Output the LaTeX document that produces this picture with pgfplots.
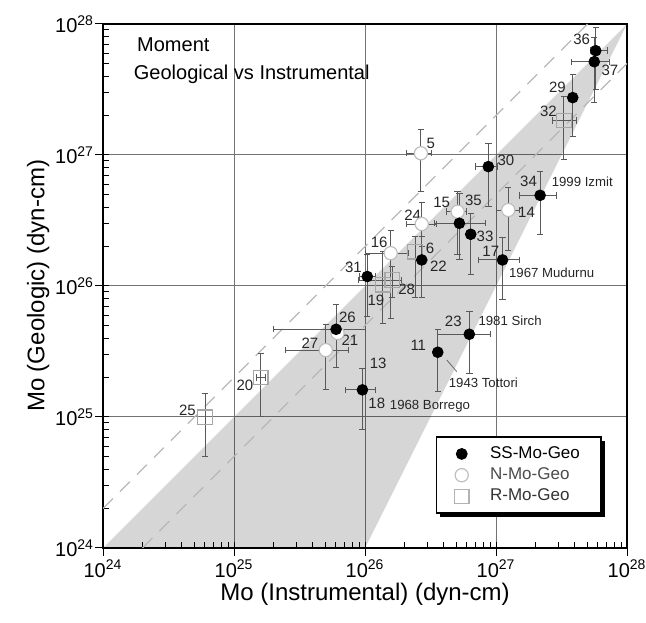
\documentclass[border=0pt]{standalone}
\usepackage{fontspec}
\setmainfont{Liberation Sans}
\usepackage{pgfplots}
\pgfplotsset{compat=1.18}
\usepackage{pgfplotstable}
\usetikzlibrary{shadows}

\makeatletter
\tikzset{noshadow/.code={\let\tikz@preactions\pgfutil@empty}}
\makeatother

% strike-slip events: id, Mo instrumental, Mo geologic, error minus/plus
\pgfplotstableread{
id x       y       xm      xp      ym      yp
36 5.77e27 6.25e27 5.0e26  1.29e27 3.09e27 3.08e27
37 5.62e27 5.15e27 1.84e27 1.79e27 2.64e27 2.79e27
29 3.85e27 2.74e27 0       0       1.36e27 1.34e27
30 8.73e26 8.15e26 1.8e26  1.5e26  4.1e26  4.1e26
34 2.17e27 4.92e26 6.7e26  7.0e26  2.47e26 2.54e26
35 5.25e26 3.01e26 1.83e26 3.0e26  1.43e26 2.1e26
33 6.41e26 2.48e26 0       0       1.25e26 1.07e26
17 1.12e27 1.58e26 3.8e26  3.8e26  7.9e25  7.8e25
22 2.71e26 1.58e26 0       0       7.7e25  8.0e25
31 1.04e26 1.18e26 1.3e25  1.6e25  6.0e25  5.5e25
26 6.01e25 4.67e25 4.0e25  4.0e25  2.3e25  2.5e25
18 9.55e25 1.61e25 2.5e25  2.4e25  8.1e24  7.5e24
11 3.59e26 3.12e25 0       0       1.56e25 1.55e25
23 6.25e26 4.28e25 2.66e26 2.75e26 2.15e25 2.16e25
}\SSdata

% normal events
\pgfplotstableread{
id x       y       xm      xp      ym      yp
5  2.67e26 1.03e27 5.9e25  5.6e25  5.05e26 5.4e26
15 5.09e26 3.69e26 9.0e25  9.0e25  1.96e26 1.56e26
14 1.24e27 3.80e26 2.3e26  2.8e26  1.92e26 1.86e26
24 2.71e26 2.97e26 6.3e25  8.1e25  9.7e25  1.36e26
16 1.57e26 1.78e26 5.7e25  5.7e25  1.22e26 8.5e25
27 5.01e25 3.24e25 2.56e25 2.44e25 1.61e25 1.80e25
21 6.17e25 4.37e25 0       0       0       0
}\Ndata

% reverse events
\pgfplotstableread{
id x       y       ym      yp
25 6.01e24 9.95e24 4.97e24 5.05e24
20 1.60e25 2.00e25 1.0e25  1.03e25
32 3.30e27 1.83e27 9.0e26  9.6e26
6  2.41e26 1.82e26 1.0e26  5.6e25
19 1.37e26 1.02e26 5.0e25  8.1e25
28 1.61e26 1.11e26 3.0e25  3.0e25
}\Rdata

\pgfplotstableread{
id x       y       xm      xp
20 1.60e25 2.00e25 1.1e24  1.3e24
32 3.30e27 1.83e27 5.9e26  8.3e26
28 1.61e26 1.11e26 7.2e25  3.0e25
}\Rxdata

\newcommand{\numfont}{\fontsize{7.5}{8}\selectfont}
\newcommand{\evfont}{\fontsize{6.6}{7}\selectfont}

\pgfplotsset{
  ebar/.style={draw=none, mark=none, forget plot,
    error bars/error bar style={draw=black!65, line width=0.5pt},
    error bars/error mark options={rotate=90, draw=black!65, mark size=1.6pt, line width=0.5pt}},
  legmark/.style={legend image code/.code={%
    \path[noshadow, draw=none, fill=none] plot coordinates {(0cm,0cm)};}},
}

\begin{document}
\begin{tikzpicture}
\useasboundingbox (-51.5pt,-37pt) rectangle (271.5pt,274pt);
\begin{axis}[
  at={(0pt,0pt)}, anchor=south west,
  scale only axis, width=262pt, height=262pt,
  xmode=log, ymode=log, log basis x=10, log basis y=10,
  xmin=1e24, xmax=1e28, ymin=1e24, ymax=1e28,
  xtick pos=left, ytick pos=left,
  tick align=inside,
  minor tick length=3pt, major tick length=3pt,
  tick style={black, line width=0.5pt},
  extra x ticks={1e24,1e25,1e26,1e27,1e28}, extra x tick labels={},
  extra y ticks={1e24,1e25,1e26,1e27,1e28}, extra y tick labels={},
  extra tick style={tick align=outside, major tick length=4pt, grid=none},
  grid=major, major grid style={black!55, line width=0.5pt},
  axis line style={black, line width=0.7pt},
  xticklabel={10\textsuperscript{\pgfmathparse{int(round(\tick))}\pgfmathresult}},
  yticklabel={10\textsuperscript{\pgfmathparse{int(round(\tick))}\pgfmathresult}},
  tick label style={font=\fontsize{10}{12}\selectfont},
  xticklabel style={yshift=-2.5pt},
  yticklabel style={xshift=-1pt},
  xlabel={Mo (Instrumental) (dyn-cm)},
  ylabel={Mo (Geologic) (dyn-cm)},
  label style={font=\fontsize{12}{14}\selectfont},
  x label style={at={(axis description cs:0.5,-0.088)}, anchor=center},
  y label style={at={(axis description cs:-0.124,0.5)}, anchor=center},
  legend cell align=left,
  legend style={at={(0.952,0.065)}, anchor=south east, draw=black, line width=0.8pt,
    fill=white, font=\fontsize{8.5}{10}\selectfont, row sep=0pt,
    inner xsep=9pt, inner ysep=3pt, nodes={inner sep=1.6pt},
    /tikz/every odd column/.append style={column sep=9pt},
    drop shadow={shadow xshift=1.8pt, shadow yshift=-1.8pt, fill=black, opacity=1}},
]
% shaded band and factor-of-two lines
\addplot[draw=none, fill=black, fill opacity=0.16, forget plot]
  coordinates {(1e24,1e24) (1e28,1e28) (1e26,1e24)} -- cycle;
\addplot[black!28, line width=0.6pt, dash pattern=on 7pt off 5pt, forget plot]
  coordinates {(1e24,2e24) (5e27,1e28)};
\addplot[black!28, line width=0.6pt, dash pattern=on 7pt off 5pt, forget plot]
  coordinates {(2e24,1e24) (1e28,5e27)};

\addlegendimage{legmark, mark=*, black, mark size=2.7pt, mark options={draw=black, fill=black, line width=0.5pt}}
\addlegendentry{SS-Mo-Geo}
\addlegendimage{legmark, mark=*, mark size=3.3pt, mark options={draw=black!25, fill=white, line width=0.6pt}}
\addlegendentry{\textcolor{black!70}{N-Mo-Geo}}
\addlegendimage{legmark, mark=square, mark size=3.6pt, mark options={draw=black!30, line width=0.6pt}}
\addlegendentry{\textcolor{black!80}{R-Mo-Geo}}

% R
\addplot[ebar, error bars/.cd, y dir=both, y explicit]
  table[x=x, y=y, y error minus=ym, y error plus=yp]{\Rdata};
\addplot[ebar, error bars/.cd, x dir=both, x explicit]
  table[x=x, y=y, x error minus=xm, x error plus=xp]{\Rxdata};
\addplot[only marks, mark=square, mark size=3.6pt, mark options={draw=black!35, line width=0.6pt}, forget plot]
  table[x=x, y=y]{\Rdata};
% N
\addplot[ebar, error bars/.cd, y dir=both, y explicit]
  table[x=x, y=y, y error minus=ym, y error plus=yp]{\Ndata};
\addplot[ebar, error bars/.cd, x dir=both, x explicit]
  table[x=x, y=y, x error minus=xm, x error plus=xp]{\Ndata};
\addplot[only marks, mark=*, mark size=3.3pt, mark options={draw=black!25, fill=white, line width=0.6pt}, forget plot]
  table[x=x, y=y]{\Ndata};
% SS
\addplot[ebar, error bars/.cd, y dir=both, y explicit]
  table[x=x, y=y, y error minus=ym, y error plus=yp]{\SSdata};
\addplot[ebar, error bars/.cd, x dir=both, x explicit]
  table[x=x, y=y, x error minus=xm, x error plus=xp]{\SSdata};
\addplot[only marks, mark=*, mark size=2.7pt, black, forget plot]
  table[x=x, y=y]{\SSdata};

% annotations
\node[anchor=west, font=\fontsize{10}{12}\selectfont] at (axis cs:1.61e24,6.92e27) {Moment};
\node[anchor=west, font=\fontsize{10}{12}\selectfont] at (axis cs:1.52e24,4.15e27) {Geological vs Instrumental};

\draw[black!60, line width=0.4pt] (axis cs:4.21e26,2.72e25) -- (axis cs:5.01e26,2.22e25);

\begin{scope}[every node/.style={font=\numfont, text=black!85, inner sep=0.5pt}]
\node at (axis cs:4.51e27,7.64e27) {36};
\node at (axis cs:7.41e27,4.46e27) {37};
\node at (axis cs:2.94e27,3.29e27) {29};
\node at (axis cs:2.51e27,2.17e27) {32};
\node at (axis cs:3.17e26,1.23e27) {5};
\node at (axis cs:1.19e27,9.16e26) {30};
\node at (axis cs:1.77e27,6.25e26) {34};
\node at (axis cs:1.71e27,3.63e26) {14};
\node at (axis cs:3.85e26,4.32e26) {15};
\node at (axis cs:6.71e26,4.48e26) {35};
\node at (axis cs:2.31e26,3.48e26) {24};
\node at (axis cs:8.24e26,2.41e26) {33};
\node at (axis cs:1.28e26,2.14e26) {16};
\node at (axis cs:3.13e26,1.94e26) {6};
\node at (axis cs:9.12e26,1.83e26) {17};
\node at (axis cs:3.63e26,1.42e26) {22};
\node at (axis cs:8.15e25,1.38e26) {31};
\node at (axis cs:1.21e26,7.82e25) {19};
\node at (axis cs:2.08e26,9.44e25) {28};
\node at (axis cs:7.33e25,5.77e25) {26};
\node at (axis cs:7.67e25,3.87e25) {21};
\node at (axis cs:3.80e25,3.66e25) {27};
\node at (axis cs:1.26e26,2.57e25) {13};
\node at (axis cs:1.23e26,1.27e25) {18};
\node at (axis cs:4.72e26,5.33e25) {23};
\node at (axis cs:2.55e26,3.55e25) {11};
\node at (axis cs:1.21e25,1.75e25) {20};
\node at (axis cs:4.41e24,1.13e25) {25};
\end{scope}
\begin{scope}[every node/.style={font=\evfont, text=black!85, inner sep=0.5pt}]
\node at (axis cs:4.55e27,6.19e26) {1999 Izmit};
\node at (axis cs:2.66e27,1.25e26) {1967 Mudurnu};
\node at (axis cs:1.28e27,5.43e25) {1981 Sirch};
\node at (axis cs:8.0e26,1.81e25) {1943 Tottori};
\node at (axis cs:3.13e26,1.20e25) {1968 Borrego};
\end{scope}
\end{axis}
\end{tikzpicture}
\end{document}
